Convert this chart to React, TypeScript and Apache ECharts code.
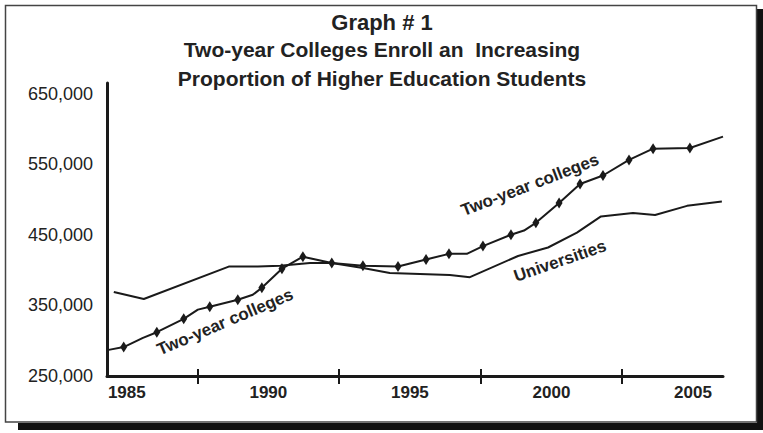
import React, { useEffect, useRef } from "react";
import * as echarts from "echarts";

// Two-year colleges: [year, enrollment, hasMarker]
const twoYearYears = [1984.36, 1984.89, 1985.57, 1986.06, 1987.01, 1987.51, 1987.93, 1988.92, 1989.45, 1989.77, 1990.48, 1991.22, 1992.24, 1993.34, 1994.58, 1995.57, 1996.38, 1997.01, 1997.58, 1998.57, 1999.03, 1999.45, 2000.27, 2001.01, 2001.82, 2002.74, 2003.59, 2004.89, 2006.06];
const twoYearValues = [287000, 291000, 304000, 312000, 331000, 344000, 348000, 358000, 365000, 375000, 402000, 419000, 410000, 406000, 405000, 415000, 423000, 423000, 434000, 450000, 456000, 467000, 495000, 522000, 534000, 556000, 572000, 573000, 589000];
const twoYearMarkers = [0, 1, 0, 1, 1, 0, 1, 1, 0, 1, 1, 1, 1, 1, 1, 1, 1, 0, 1, 1, 0, 1, 1, 1, 1, 1, 1, 1, 0];

const uniYears = [1984.54, 1985.6, 1988.6, 1989.63, 1990.41, 1991.47, 1992.24, 1993.34, 1994.29, 1996.41, 1997.12, 1998.82, 1999.88, 2000.9, 2001.75, 2002.88, 2003.66, 2004.79, 2006.02];
const uniValues = [369000, 359000, 405000, 405000, 406000, 410000, 410000, 403000, 396000, 393000, 390000, 420000, 432000, 453000, 476000, 481000, 478000, 491000, 497000];

const xLabelYears = [1985, 1990, 1995, 2000, 2005];
const xTickYears = [1987.5, 1992.5, 1997.5, 2002.5];

const titleText = "Graph # 1";
const subtitleText = "Two-year Colleges Enroll an  Increasing\nProportion of Higher Education Students";
const seriesNames = ["Two-year colleges", "Universities"];

const FONT = "'Liberation Sans', Arial, Helvetica, sans-serif";
const INK = "#1a1a1a";

export default function App() {
  const ref = useRef<HTMLDivElement>(null);
  useEffect(() => {
    if (!ref.current) return;
    const chart = echarts.init(ref.current, undefined, { renderer: "svg" });
    const twoYearData = twoYearYears.map((y, i) => ({
      value: [y, twoYearValues[i]],
      symbol: twoYearMarkers[i] ? "diamond" : "none",
    }));
    const uniData = uniYears.map((y, i) => [y, uniValues[i]]);
    const axisCommon = { type: "value" as const, min: 1984.3, max: 2006.06 };
    chart.setOption({
      animation: false,
      backgroundColor: "#ffffff",
      title: [
        {
          text: titleText,
          left: 382,
          textAlign: "center",
          top: 11,
          padding: 0,
          textStyle: { fontFamily: FONT, fontSize: 22, fontWeight: "bold", color: "#222" },
        },
        {
          text: subtitleText,
          left: 382,
          textAlign: "center",
          top: 35,
          padding: 0,
          textStyle: { fontFamily: FONT, fontSize: 21, fontWeight: "bold", color: "#222", lineHeight: 29 },
        },
      ],
      grid: { left: 107, right: 40, top: 83, bottom: 57 },
      xAxis: [
        {
          ...axisCommon,
          position: "bottom",
          axisLine: { show: true, lineStyle: { color: INK, width: 3 } },
          axisTick: { show: true, inside: false, length: 8, customValues: xTickYears, lineStyle: { color: INK, width: 2 } },
          axisLabel: {
            show: true,
            customValues: xLabelYears,
            margin: 8,
            fontFamily: FONT,
            fontSize: 17,
            fontWeight: "bold",
            color: "#222",
            formatter: (v: number) => String(Math.round(v)),
          },
          splitLine: { show: false },
        },
        {
          ...axisCommon,
          position: "bottom",
          axisLine: { show: false },
          axisTick: { show: true, inside: true, length: 7, customValues: xTickYears, lineStyle: { color: INK, width: 2 } },
          axisLabel: { show: false },
          splitLine: { show: false },
        },
      ],
      yAxis: {
        type: "value",
        min: 250000,
        max: 665000,
        interval: 100000,
        axisLine: { show: true, lineStyle: { color: INK, width: 3 } },
        axisTick: { show: false },
        splitLine: { show: false },
        axisLabel: {
          margin: 14,
          fontFamily: FONT,
          fontSize: 18,
          color: "#222",
          padding: [5, 0, 0, 0],
          formatter: (v: number) => (v % 100000 === 50000 ? v.toLocaleString("en-US") : ""),
        },
      },
      series: [
        {
          name: seriesNames[0],
          type: "line",
          data: twoYearData,
          symbolSize: [7, 11],
          showAllSymbol: true,
          lineStyle: { color: INK, width: 2 },
          itemStyle: { color: INK },
          z: 3,
        },
        {
          name: seriesNames[1],
          type: "line",
          data: uniData,
          showSymbol: false,
          symbol: "none",
          lineStyle: { color: INK, width: 2 },
          itemStyle: { color: INK },
          z: 2,
        },
      ],
      graphic: [
        { type: "rect", shape: { x: 757, y: 9, width: 6, height: 421 }, style: { fill: "#111" }, z: 0 },
        { type: "rect", shape: { x: 18, y: 423, width: 745, height: 7 }, style: { fill: "#111" }, z: 0 },
        {
          type: "rect",
          shape: { x: 5.5, y: 5.5, width: 751, height: 416.5 },
          style: { fill: "none", stroke: "#444", lineWidth: 1.5 },
          z: 1,
        },
        {
          type: "text",
          x: 225,
          y: 322,
          rotation: (23 * Math.PI) / 180,
          style: { text: seriesNames[0], x: 0, y: 0, align: "center", verticalAlign: "middle", font: `bold 17px ${FONT}`, fill: "#222" },
          z: 10,
        },
        {
          type: "text",
          x: 530,
          y: 185,
          rotation: (21 * Math.PI) / 180,
          style: { text: seriesNames[0], x: 0, y: 0, align: "center", verticalAlign: "middle", font: `bold 17px ${FONT}`, fill: "#222" },
          z: 10,
        },
        {
          type: "text",
          x: 560,
          y: 261,
          rotation: (19 * Math.PI) / 180,
          style: { text: seriesNames[1], x: 0, y: 0, align: "center", verticalAlign: "middle", font: `bold 17px ${FONT}`, fill: "#222" },
          z: 10,
        },
      ],
    });
    return () => chart.dispose();
  }, []);
  return (
    <div
      ref={ref}
      style={{ position: "fixed", left: 0, top: 0, width: 763, height: 433, background: "#fff" }}
    />
  );
}
